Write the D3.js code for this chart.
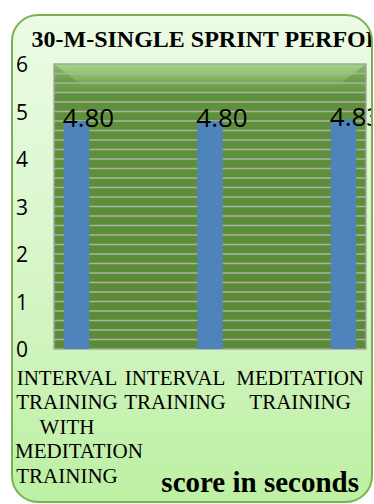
<!DOCTYPE html>
<html>
<head>
<meta charset="utf-8">
<script src="https://cdn.jsdelivr.net/npm/d3@7"></script>
<style>
  html, body { margin: 0; padding: 0; background: #ffffff; }
  svg { display: block; }
</style>
</head>
<body>
<div id="chart"></div>
<script>
// ---- data ----
const categories = ["IT_MT", "IT", "MT"];
const categoryLabels = [
  ["INTERVAL", "TRAINING", "WITH", "MEDITATION", "TRAINING"],
  ["INTERVAL", "TRAINING"],
  ["MEDITATION", "TRAINING"]
];
const values = [4.80, 4.80, 4.83];
const valueLabels = ["4.80", "4.80", "4.83"];
const yTicks = [0, 1, 2, 3, 4, 5, 6];
const minorTicks = d3.range(1, 30).map(i => i / 5);
const titleText = "30-M-SINGLE SPRINT PERFORMANCE";
const axisTitleText = "score in seconds";

// ---- layout ----
const W = 374, H = 504;
const chart = { x: 12, y: 15, w: 360, h: 487, r: 26 };
const plot = { left: 54, right: 366, top: 64, bottom: 349 };

const svg = d3.select("#chart").append("svg")
  .attr("width", W).attr("height", H);

const defs = svg.append("defs");
const bg = defs.append("linearGradient").attr("id", "bg")
  .attr("x1", 0).attr("y1", 0).attr("x2", 0).attr("y2", 1);
bg.append("stop").attr("offset", "0%").attr("stop-color", "#ecfbe5");
bg.append("stop").attr("offset", "50%").attr("stop-color", "#d8f6ca");
bg.append("stop").attr("offset", "100%").attr("stop-color", "#bdf0a3");

const wall = defs.append("linearGradient").attr("id", "wall")
  .attr("x1", 0).attr("y1", 0).attr("x2", 0).attr("y2", 1);
wall.append("stop").attr("offset", "0%").attr("stop-color", "#a6d388");
wall.append("stop").attr("offset", "3.5%").attr("stop-color", "#8fc16e");
wall.append("stop").attr("offset", "7%").attr("stop-color", "#72a44f");
wall.append("stop").attr("offset", "11%").attr("stop-color", "#5f903b");
wall.append("stop").attr("offset", "100%").attr("stop-color", "#5a8a36");

defs.append("clipPath").attr("id", "chartClip")
  .append("rect").attr("x", chart.x).attr("y", chart.y)
  .attr("width", chart.w).attr("height", chart.h).attr("rx", chart.r);

// chart area
svg.append("rect")
  .attr("x", chart.x).attr("y", chart.y)
  .attr("width", chart.w).attr("height", chart.h).attr("rx", chart.r)
  .attr("fill", "url(#bg)");

const g = svg.append("g").attr("clip-path", "url(#chartClip)");

// scales
const y = d3.scaleLinear().domain([0, 6]).range([plot.bottom, plot.top]);
const x = d3.scalePoint().domain(categories).range([76.5, 343.5]);
const xl = d3.scalePoint().domain(categories).range([67, 283]);
const barW = 25.5;

// plot wall
g.append("rect")
  .attr("x", plot.left).attr("y", plot.top)
  .attr("width", plot.right - plot.left).attr("height", plot.bottom - plot.top)
  .attr("fill", "url(#wall)");
// corner bevels
g.append("path")
  .attr("d", `M${plot.left},${plot.top} L${plot.left + 26},${plot.top + 20} L${plot.left},${plot.top + 20} Z`)
  .attr("fill", "#4f7d2e").attr("opacity", 0.35);
g.append("path")
  .attr("d", `M${plot.right},${plot.top} L${plot.right - 26},${plot.top + 20} L${plot.right},${plot.top + 20} Z`)
  .attr("fill", "#4f7d2e").attr("opacity", 0.35);

// minor gridlines
g.append("g").selectAll("line").data(minorTicks).join("line")
  .attr("x1", plot.left).attr("x2", plot.right)
  .attr("y1", d => y(d)).attr("y2", d => y(d))
  .attr("stroke", "#abb3a6").attr("stroke-width", 1.4);

// plot border
g.append("rect")
  .attr("x", plot.left).attr("y", plot.top)
  .attr("width", plot.right - plot.left).attr("height", plot.bottom - plot.top)
  .attr("fill", "none").attr("stroke", "#a3a8a0").attr("stroke-width", 1.5);

// bars
g.append("g").selectAll("rect").data(values).join("rect")
  .attr("x", (d, i) => x(categories[i]) - barW / 2)
  .attr("y", d => y(d))
  .attr("width", barW)
  .attr("height", d => y(0) - y(d))
  .attr("fill", "#4f84bb");

// data labels
g.append("g").selectAll("text").data(values).join("text")
  .attr("x", (d, i) => x(categories[i]) + 12)
  .attr("y", d => y(d) + 6)
  .attr("text-anchor", "middle")
  .attr("font-family", "'Open Sans', 'Noto Sans', sans-serif")
  .attr("font-size", 26)
  .attr("fill", "#000")
  .text((d, i) => valueLabels[i]);

// y axis tick labels
g.append("g").selectAll("text").data(yTicks).join("text")
  .attr("x", 22)
  .attr("y", d => y(d) + 8)
  .attr("text-anchor", "middle")
  .attr("font-family", "'Open Sans', 'Noto Sans', sans-serif")
  .attr("font-size", 21)
  .attr("fill", "#000")
  .text(d => d);

// category labels (lines kept inside the chart's inner padding;
// the last label block is pushed to the right padding)
const minX = chart.x + 3, maxX = chart.x + chart.w - 8;
const cl = g.append("g");
categories.forEach((c, i) => {
  const t = cl.append("text")
    .attr("text-anchor", "middle")
    .attr("font-family", "'Liberation Serif', 'Times New Roman', serif")
    .attr("font-size", 21)
    .attr("fill", "#000");
  const spans = categoryLabels[i].map((line, k) =>
    t.append("tspan").attr("x", xl(c)).attr("y", 385 + k * 24.4).text(line));
  const widest = d3.max(spans, s => s.node().getComputedTextLength());
  let cx = xl(c);
  if (i === categories.length - 1 || cx + widest / 2 > maxX) cx = maxX - widest / 2;
  spans.forEach(s => {
    const w = s.node().getComputedTextLength();
    let px = cx;
    if (px - w / 2 < minX) px = minX + w / 2;
    s.attr("x", px);
  });
});

// title
g.append("text")
  .attr("x", 31.5).attr("y", 47)
  .attr("font-family", "'Liberation Serif', 'Times New Roman', serif")
  .attr("font-weight", "bold")
  .attr("font-size", 24)
  .attr("fill", "#000")
  .text(titleText);

// axis title
g.append("text")
  .attr("x", 359).attr("y", 492)
  .attr("text-anchor", "end")
  .attr("font-family", "'Liberation Serif', 'Times New Roman', serif")
  .attr("font-weight", "bold")
  .attr("font-size", 29)
  .attr("fill", "#000")
  .text(axisTitleText);

// chart border
svg.append("rect")
  .attr("x", chart.x).attr("y", chart.y)
  .attr("width", chart.w).attr("height", chart.h).attr("rx", chart.r)
  .attr("fill", "none").attr("stroke", "#79b14f").attr("stroke-width", 2);
</script>
</body>
</html>
